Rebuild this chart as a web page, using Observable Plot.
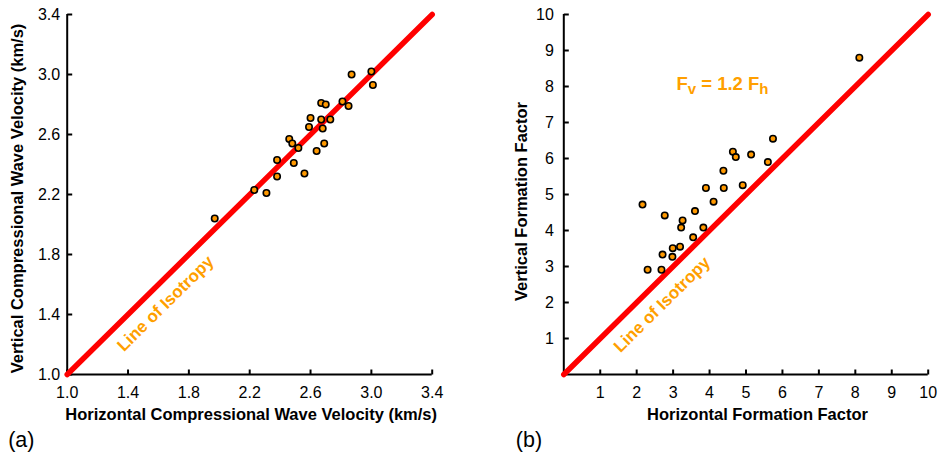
<!DOCTYPE html>
<html>
<head>
<meta charset="utf-8">
<script src="https://cdn.jsdelivr.net/npm/d3@7"></script>
<script src="https://cdn.jsdelivr.net/npm/@observablehq/plot@0.6"></script>
<style>
html, body { margin: 0; padding: 0; background: #fff; }
#wrap { position: relative; width: 939px; height: 457px; overflow: hidden; }
#a, #b { position: absolute; top: 0; }
#a { left: 0; }
#b { left: 470px; }
svg { overflow: visible; }
</style>
</head>
<body>
<div id="wrap"><div id="a"></div><div id="b"></div></div>
<script>
// ---------- Panel (a): compressional wave velocity (km/s) ----------
const velHorizontal = [2.87, 3.00, 3.01, 2.67, 2.70, 2.81, 2.85, 2.60, 2.67, 2.73, 2.59, 2.68,
                       2.46, 2.48, 2.52, 2.64, 2.69, 2.38, 2.49, 2.56, 2.38, 2.23, 2.31, 1.97];
const velVertical   = [3.00, 3.02, 2.93, 2.81, 2.80, 2.82, 2.79, 2.71, 2.70, 2.70, 2.65, 2.64,
                       2.57, 2.54, 2.51, 2.49, 2.54, 2.43, 2.41, 2.34, 2.32, 2.23, 2.21, 2.04];
const velTicks = [1.0, 1.4, 1.8, 2.2, 2.6, 3.0, 3.4];
const velDomain = [1.0, 3.4];
const velIsotropy = [1.0, 3.4];

// ---------- Panel (b): formation factor ----------
const ffHorizontal = [5.74, 4.64, 4.72, 5.14, 5.60, 4.38, 3.90, 4.39, 4.91, 4.11, 2.16, 2.77,
                      3.60, 3.26, 3.22, 3.83, 3.55, 2.99, 3.19, 2.71, 2.98, 2.30, 2.68, 8.11];
const ffVertical   = [6.55, 6.19, 6.04, 6.11, 5.90, 5.66, 5.18, 5.18, 5.26, 4.80, 4.72, 4.42,
                      4.54, 4.28, 4.08, 4.08, 3.81, 3.51, 3.55, 3.33, 3.27, 2.91, 2.91, 8.80];
const ffTicks = [1, 2, 3, 4, 5, 6, 7, 8, 9, 10];
const ffDomain = [0, 10];
const ffIsotropy = [0, 10];

const isoLabel = "Line of Isotropy";
const fvParts = [["F", false], ["v", true], [" = 1.2 F", false], ["h", true]];
const fvLabel = fvParts.map(p => p[0]).join("");

const FONT = '"Liberation Sans", Arial, Helvetica, sans-serif';
const ORANGE_TEXT = "#ff9f00";
const DOT_FILL = "#ff9900";
const RED = "#ff0000";

// inward tick marks drawn as custom dot symbols
const tickUp = {draw(ctx) { ctx.moveTo(0, 0); ctx.lineTo(0, -5); }};
const tickRight = {draw(ctx) { ctx.moveTo(0, 0); ctx.lineTo(5, 0); }};

function axes(ticks, domain, fmt, padY) {
  return [
    Plot.axisX({ticks, tickSize: 0, tickPadding: 12, tickFormat: fmt, fontSize: 16, fill: "#000", label: null}),
    Plot.axisY({ticks, tickSize: 0, tickPadding: padY, tickFormat: fmt, fontSize: 16, fill: "#000", label: null}),
    Plot.ruleX([domain[0]], {stroke: "#000", strokeWidth: 2}),
    Plot.ruleY([domain[0]], {stroke: "#000", strokeWidth: 2}),
    Plot.dot(ticks, {x: d => d, y: domain[0], symbol: tickUp, r: 5, fill: "none", stroke: "#000", strokeWidth: 2}),
    Plot.dot(ticks, {x: domain[0], y: d => d, symbol: tickRight, r: 5, fill: "none", stroke: "#000", strokeWidth: 2})
  ];
}

const plotA = Plot.plot({
  width: 470, height: 457,
  marginLeft: 66.7, marginRight: 38.3, marginTop: 14, marginBottom: 83,
  style: {fontFamily: FONT, fontSize: "16px", color: "#000", background: "transparent", overflow: "visible"},
  x: {domain: velDomain},
  y: {domain: velDomain},
  marks: [
    ...axes(velTicks, velDomain, d3.format(".1f"), 7),
    Plot.line(velIsotropy, {x: d => d, y: d => d, stroke: RED, strokeWidth: 5.5}),
    Plot.dot(velHorizontal.map((x, i) => ({x, y: velVertical[i]})),
      {x: "x", y: "y", r: 3.2, fill: DOT_FILL, stroke: "#000", strokeWidth: 1.6}),
    Plot.text([isoLabel], {x: 1.646, y: 1.473, rotate: -44.6, fill: ORANGE_TEXT, fontWeight: "bold", fontSize: 17}),
    Plot.text(["Horizontal Compressional Wave Velocity (km/s)"],
      {frameAnchor: "bottom", dy: 40, dx: 1.5, textAnchor: "middle", lineAnchor: "middle", fontWeight: "bold", fontSize: 16.5, fill: "#000"}),
    Plot.text(["Vertical Compressional Wave Velocity (km/s)"],
      {frameAnchor: "left", dx: -49, dy: 4, rotate: -90, textAnchor: "middle", lineAnchor: "middle", fontWeight: "bold", fontSize: 16.5, fill: "#000"}),
    Plot.text(["(a)"], {frameAnchor: "bottom-left", dx: -59, dy: 65.5, textAnchor: "start", lineAnchor: "middle", fontSize: 21.5, fill: "#000"})
  ]
});
document.getElementById("a").appendChild(plotA);

const plotB = Plot.plot({
  width: 469, height: 457,
  marginLeft: 93.3, marginRight: 11.3, marginTop: 14, marginBottom: 83,
  style: {fontFamily: FONT, fontSize: "16px", color: "#000", background: "transparent", overflow: "visible"},
  x: {domain: ffDomain},
  y: {domain: ffDomain},
  marks: [
    ...axes(ffTicks, ffDomain, d3.format("d"), 10),
    Plot.line(ffIsotropy, {x: d => d, y: d => d, stroke: RED, strokeWidth: 5.5}),
    Plot.dot(ffHorizontal.map((x, i) => ({x, y: ffVertical[i]})),
      {x: "x", y: "y", r: 3.2, fill: DOT_FILL, stroke: "#000", strokeWidth: 1.6}),
    Plot.text([isoLabel], {x: 2.695, y: 1.944, rotate: -44.7, fill: ORANGE_TEXT, fontWeight: "bold", fontSize: 17}),
    Plot.text([fvLabel], {x: 3.09, y: 8.08, textAnchor: "start", lineAnchor: "middle", fill: ORANGE_TEXT, fontWeight: "bold", fontSize: 18.5}),
    Plot.text(["Horizontal Formation Factor"],
      {frameAnchor: "bottom", dy: 40, dx: 11.5, textAnchor: "middle", lineAnchor: "middle", fontWeight: "bold", fontSize: 16.5, fill: "#000"}),
    Plot.text(["Vertical Formation Factor"],
      {frameAnchor: "left", dx: -42, dy: 7, rotate: -90, textAnchor: "middle", lineAnchor: "middle", fontWeight: "bold", fontSize: 16.5, fill: "#000"}),
    Plot.text(["(b)"], {frameAnchor: "bottom-left", dx: -48, dy: 65.5, textAnchor: "start", lineAnchor: "middle", fontSize: 21.5, fill: "#000"})
  ]
});
document.getElementById("b").appendChild(plotB);

// subscripts for the F_v = 1.2 F_h annotation
const fvText = [...plotB.querySelectorAll("text")].find(e => e.textContent === fvLabel);
if (fvText) {
  const sel = d3.select(fvText);
  sel.text(null);
  let shifted = false;
  for (const [s, sub] of fvParts) {
    const t = sel.append("tspan").text(s);
    if (sub) { t.attr("font-size", 15).attr("dy", shifted ? null : 4); shifted = true; }
    else if (shifted) { t.attr("dy", -4); shifted = false; }
  }
}
</script>
</body>
</html>
